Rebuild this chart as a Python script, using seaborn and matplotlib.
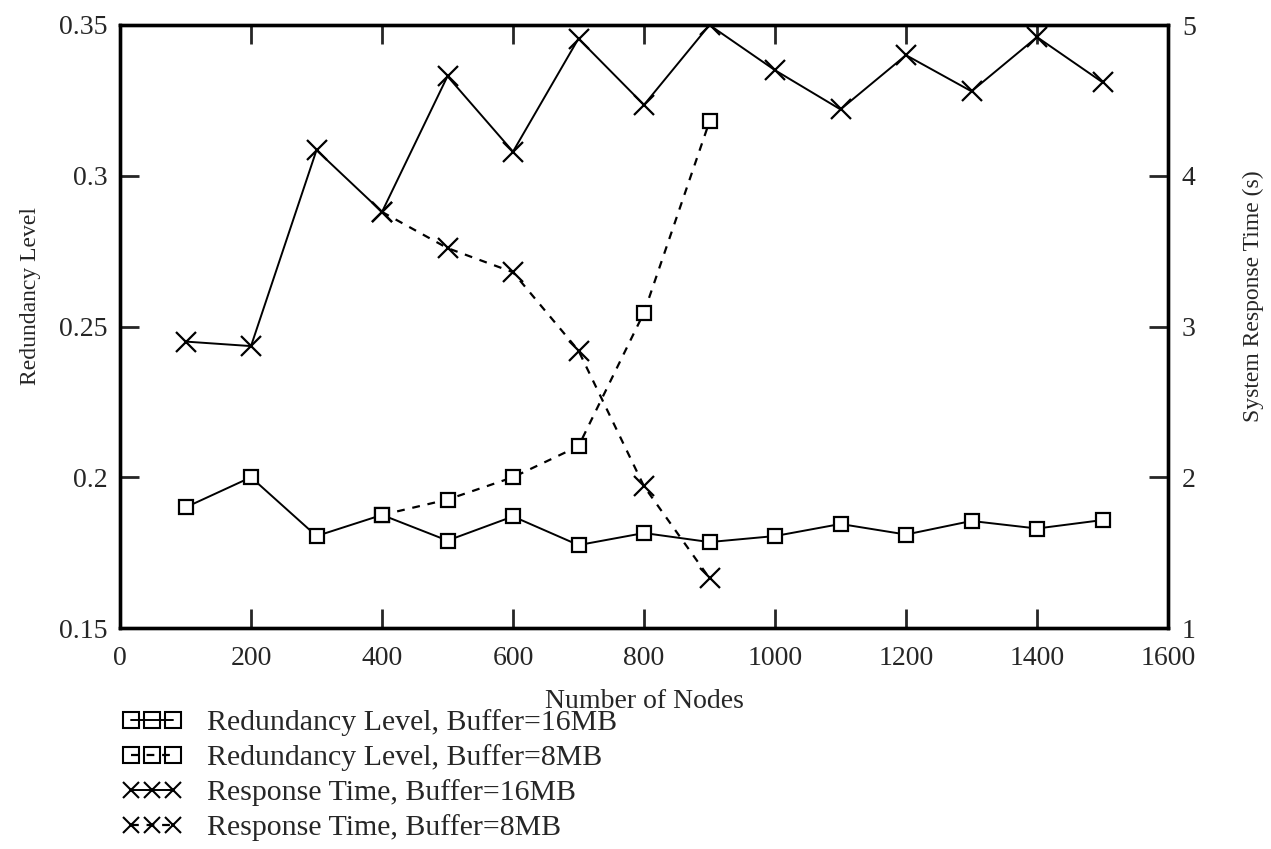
import matplotlib
matplotlib.use("Agg")
import matplotlib.pyplot as plt
import seaborn as sns
from matplotlib.ticker import FixedLocator, FuncFormatter

# Number of nodes
nodes_16 = [100, 200, 300, 400, 500, 600, 700, 800, 900, 1000, 1100, 1200, 1300, 1400, 1500]
nodes_8 = [400, 500, 600, 700, 800, 900]

# Redundancy level (left axis)
redundancy_16 = [0.190, 0.200, 0.1805, 0.1875, 0.179, 0.187, 0.1775, 0.1815, 0.1785,
                 0.1805, 0.1845, 0.181, 0.1855, 0.183, 0.1858]
redundancy_8 = [0.1875, 0.1926, 0.200, 0.2103, 0.2546, 0.318]

# System response time in seconds (right axis)
response_16 = [2.90, 2.87, 4.17, 3.76, 4.66, 4.16, 4.91, 4.47, 5.00, 4.70, 4.44, 4.80, 4.56, 4.92, 4.62]
response_8 = [3.76, 3.52, 3.36, 2.84, 1.94, 1.33]

labels = [
    "Redundancy Level, Buffer=16MB",
    "Redundancy Level, Buffer=8MB",
    "Response Time, Buffer=16MB",
    "Response Time, Buffer=8MB",
]

sns.set_style("ticks")
plt.rcParams["font.family"] = ["Liberation Serif", "DejaVu Serif"]
plt.rcParams["font.size"] = 20

fig = plt.figure(figsize=(12.71, 8.49), dpi=100)
ax = fig.add_axes([120 / 1271, 1 - 628 / 849, (1168 - 120) / 1271, (628 - 25) / 849])
ax2 = ax.twinx()

dash = (0, (3.5, 3.5))
sq = dict(marker="s", markersize=9.5, markerfacecolor="white", markeredgecolor="black",
          markeredgewidth=1.6)
xx = dict(marker="x", markersize=14, markeredgecolor="black", markeredgewidth=1.6)

sns.lineplot(x=nodes_8, y=redundancy_8, ax=ax, color="black", linewidth=1.6,
             linestyle=dash, **sq)
sns.lineplot(x=nodes_16, y=redundancy_16, ax=ax, color="black", linewidth=1.4, **sq)
sns.lineplot(x=nodes_8, y=response_8, ax=ax2, color="black", linewidth=1.6,
             linestyle=dash, **xx)
sns.lineplot(x=nodes_16, y=response_16, ax=ax2, color="black", linewidth=1.4, **xx)

ax.set_xlim(0, 1600)
ax.set_ylim(0.15, 0.35)
ax2.set_ylim(1, 5)

ax.xaxis.set_major_locator(FixedLocator(list(range(0, 1601, 200))))
ax.yaxis.set_major_locator(FixedLocator([0.15, 0.2, 0.25, 0.3, 0.35]))
ax.yaxis.set_major_formatter(FuncFormatter(lambda v, p: f"{v:g}"))
ax2.yaxis.set_major_locator(FixedLocator([1, 2, 3, 4, 5]))

for a in (ax, ax2):
    for s in a.spines.values():
        s.set_linewidth(2.4)
        s.set_color("black")
        s.set_visible(True)

ax.tick_params(axis="x", direction="in", length=14, width=2.0, top=True, bottom=True,
               labelsize=20, pad=13)
ax.tick_params(axis="y", direction="in", length=14, width=2.0, left=True, right=False,
               labelsize=20, pad=9)
ax2.tick_params(axis="y", direction="in", length=14, width=2.0, right=True, left=False,
                labelsize=20, pad=10)

ax.set_xlabel("Number of Nodes", fontsize=20, labelpad=13)
ax.set_ylabel("Redundancy Level", fontsize=17, labelpad=13)
ax2.set_ylabel("System Response Time (s)", fontsize=17, labelpad=34)
ax.yaxis.label.set_y(0.55)
ax2.yaxis.label.set_y(0.55)

lines = [ax.lines[1], ax.lines[0], ax2.lines[1], ax2.lines[0]]
leg = fig.legend(lines, labels, loc="upper left", bbox_to_anchor=(122 / 1271, 1 - 709 / 849),
                 frameon=False, numpoints=3, handlelength=2.0, handletextpad=0.85,
                 labelspacing=0.27, borderpad=0, borderaxespad=0, fontsize=21.5)

# Legend samples: wide touching boxes and slightly smaller crosses
for h in leg.legend_handles[:2]:
    h.set_markersize(12)
    h.set_markerfacecolor("none")
    h.set_markeredgewidth(1.5)
for h in leg.legend_handles[2:]:
    h.set_markersize(12)
    h.set_markeredgewidth(1.5)

fig.savefig("out.png", dpi=100)
